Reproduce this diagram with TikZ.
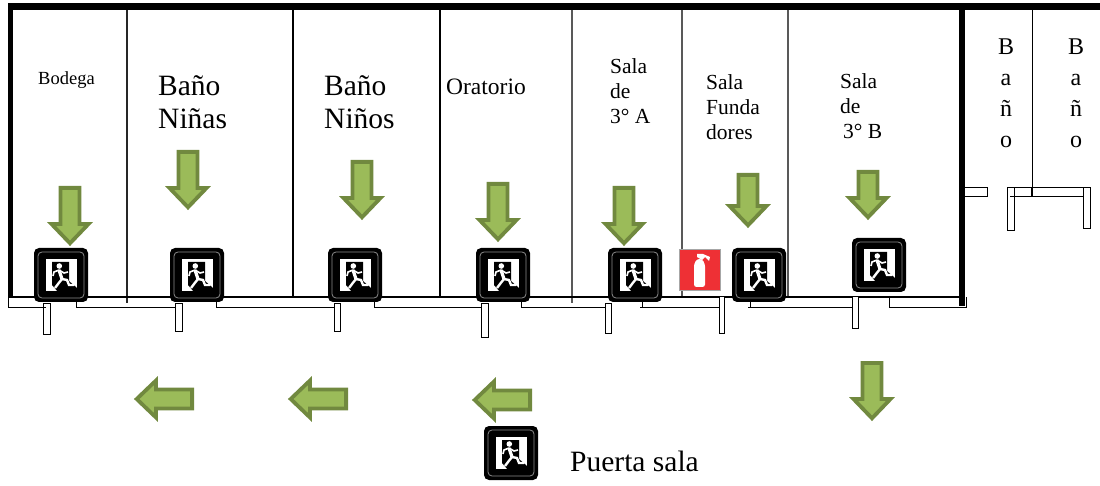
\documentclass[tikz,border=0pt]{standalone}
\usepackage{xcolor}
\usepackage{fontspec}
\setmainfont{Liberation Serif}
\definecolor{arrowfill}{HTML}{9BBB59}
\definecolor{arrowline}{HTML}{71893F}
\definecolor{firered}{HTML}{EE3035}
\tikzset{
    arrowshape/.style={draw=arrowline,fill=arrowfill,line width=3.8pt,miter limit=10},
    wall/.style={line width=6pt},
    partition/.style={draw=black!65,line width=1.2pt},
    doorline/.style={draw=black,line width=1pt},
    label/.style={inner sep=0pt,anchor=north west,align=left},
    pics/exitsign/.style={code={
        \fill[black,rounded corners=5pt] (-27,-27) rectangle (27,27);
        \draw[black!45,line width=0.8pt,rounded corners=4pt] (-23,-23) rectangle (23,23);
        \fill[white] (-15,-16) rectangle (16,16);
        \fill[black] (-9,-13) -- (8,-13) -- (8,6) -- (16,13) -- (16,17) -- (-3,17) -- (-9,10) -- cycle;
        \fill[white] (-1.7,-9) circle (2.8);
        \draw[white,line width=3.2pt] (-2,-5) -- (1,4);
        \draw[white,line width=1.6pt] (-2,-5) -- (-7,-3) -- (-8,1);
        \draw[white,line width=1.6pt] (-2,-5) -- (3,-2) -- (7,-3);
        \draw[white,line width=2.4pt] (1,4) -- (-3,9) -- (-6,13);
        \draw[white,line width=2.4pt] (1,4) -- (6,5) -- (8,10) -- (13,10);
    }},
    pics/downarrow/.style={code={
        \draw[arrowshape] (-9.5,1.9) -- (9.5,1.9) -- (9.5,#1-22) -- (18.5,#1-22) -- (0,#1-2.7)
            -- (-18.5,#1-22) -- (-9.5,#1-22) -- cycle;
    }},
    pics/leftarrow/.style={code={
        \draw[arrowshape] (-1.9,-9.5) -- (-1.9,9.5) -- (-38,9.5) -- (-38,18.5) -- (-57.3,0)
            -- (-38,-18.5) -- (-38,-9.5) -- cycle;
    }}
}
\begin{document}
\begin{tikzpicture}[x=1pt,y=-1pt]
    \useasboundingbox (0,0) rectangle (1100,486);
    % rooms
    \draw [partition,draw=black!85] (127,7) -- (127,303);
    \draw [line width=2.4pt] (293,7) -- (293,297);
    \draw [line width=2pt] (440,7) -- (440,297);
    \draw [partition] (572,7) -- (572,303);
    \draw [partition] (682,7) -- (682,298);
    \draw [partition] (788,7) -- (788,297);
    \draw [line width=1pt] (1032,7) -- (1032,196);
    % outer walls
    \draw [line width=7pt] (8,7) -- (1100,7);
    \draw [line width=5pt] (10.5,7) -- (10.5,298);
    \draw [wall] (962,7) -- (962,306);
    \draw [line width=1.6pt] (9,297) -- (962,297);
    % corridor side of the wall
    \draw [doorline] (8,297) -- (8,307) -- (46,307);
    \draw [doorline] (76,301) -- (76,307) -- (178,307);
    \draw [doorline] (216,301) -- (216,307) -- (335,307);
    \draw [doorline] (374,301) -- (374,307) -- (482,307);
    \draw [doorline] (521,301) -- (521,307) -- (606,307);
    \draw [doorline] (640,307) -- (722,307);
    \draw [doorline] (642,301) -- (642,307);
    \draw [doorline] (748,307) -- (853,307);
    \draw [doorline] (750,301) -- (750,307);
    \draw [doorline] (889,296) -- (889,308);
    \draw [doorline] (889,307) -- (966,307) -- (966,297);
    \draw [doorline] (43.5,303) rectangle (50,334);
    \draw [doorline,fill=white] (175.5,303) rectangle (182,331);
    \draw [doorline,fill=white] (334,303) rectangle (340,331);
    \draw [doorline,fill=white] (481,303) rectangle (488,337);
    \draw [doorline,fill=white] (605.5,303) rectangle (611,333);
    \draw [doorline,fill=white] (719,297) rectangle (724,333);
    \draw [doorline,fill=white] (852,297) rectangle (858,328);
    % bathrooms
    \draw [doorline] (965,188) -- (987,188) -- (987,197) -- (965,197);
    \draw [doorline,fill=white] (1007.5,188) rectangle (1014,231);
    \draw [doorline] (1010,196.5) -- (1089,196.5);
    \draw [doorline] (1014,188) -- (1091,188);
    \draw [doorline,fill=white] (1083.5,188) rectangle (1090.5,229);
    \draw [line width=1.8pt] (1032,188) -- (1032,196);
    % exit signs
    \foreach \signx/\signy in {61/275,197/275,355/275,503/275,635/275,759/275,879/265,511/453}
        \pic at (\signx,\signy) {exitsign};
    % extinguisher
    \draw [draw=black!35,fill=firered,line width=1pt] (679,250) rectangle (720,290.5);
    \fill [white,rounded corners=2.5pt] (694,287) -- (694,264) -- (697,259) -- (702,259) -- (705,264) -- (705,287) -- cycle;
    \fill [white] (697,257) -- (697,254) -- (703,254) -- (710,257) -- (709,261) -- (705,257) -- (702,260) -- cycle;
    % arrows
    \foreach \arrowx/\arrowy/\arrowlen in {70/186/60,188/150/60,362/160/60,498/182/60,624/186/60,748/173/55,868/170/50,872/361/60}
        \pic at (\arrowx,\arrowy) {downarrow={\arrowlen}};
    \foreach \arrowx/\arrowy in {194/399,348/399,532/400}
        \pic at (\arrowx,\arrowy) {leftarrow};
    % labels
    \node [label,font=\fontsize{18.5}{22}\selectfont] (bodega) at (38,71) {Bodega};
    \node [label,font=\fontsize{29.5}{33}\selectfont] (ninas) at (158,75) {Baño\\Niñas};
    \node [label,font=\fontsize{29.5}{33}\selectfont] (ninos) at (324,75) {Baño\\Niños};
    \node [label,font=\fontsize{23.5}{25}\selectfont] (oratorio) at (446,79) {Oratorio};
    \node [label,font=\fontsize{21.5}{25}\selectfont] (salaa) at (610,58) {Sala\\de\\3° A};
    \node [label,font=\fontsize{21.5}{25}\selectfont] (fundadores) at (706,74.5) {Sala\\Funda\\dores};
    \node [label,font=\fontsize{21.5}{25}\selectfont] (salab) at (840,73.5) {Sala\\de\\\hspace{3pt}3° B};
    \node [label,align=center,anchor=north,font=\fontsize{24}{31}\selectfont] (banoa) at (1006,39) {B\\a\\ñ\\o};
    \node [label,align=center,anchor=north,font=\fontsize{24}{31}\selectfont] (banob) at (1076,39) {B\\a\\ñ\\o};
    \node [label,font=\fontsize{29.5}{32}\selectfont] (puerta) at (570,451) {Puerta sala};
\end{tikzpicture}
\end{document}
